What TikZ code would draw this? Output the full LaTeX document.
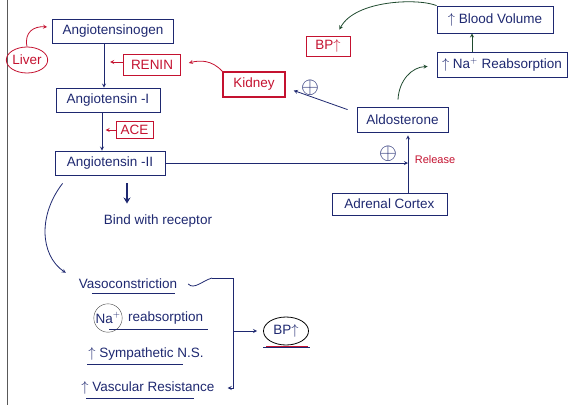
\documentclass[tikz,border=0pt]{standalone}
\usepackage{fontspec}
\setmainfont{Liberation Sans}
\usetikzlibrary{arrows.meta,shapes.geometric}
\definecolor{figN}{HTML}{1E2870}
\definecolor{figR}{HTML}{C41230}
\definecolor{figG}{HTML}{1F4A2E}

\begin{document}
\begin{tikzpicture}[x=1pt,y=-1pt,>=stealth,font=\fontsize{13.5}{15}\selectfont,
  box/.style={draw=figN,thick,text=figN,inner sep=2pt},
  rbox/.style={draw=figR,thick,text=figR,inner sep=2pt},
  note/.style={text=figN,inner sep=1pt},
  link/.style={->,figN,thick},
  rlink/.style={->,figR,thick},
  glink/.style={->,figG,thick},
  uline/.style={figN,thick}]
\useasboundingbox (0,0) rectangle (573,405);
\draw[black!65] (7,0) -- (7,405);
% renin - angiotensin chain
\node[box,minimum width=121pt,minimum height=24pt] (ago) at (113,31) {Angiotensinogen};
\node[rbox,ellipse,minimum width=40pt,minimum height=26pt,inner sep=0pt] (liver) at (27,60) {Liver};
\node[rbox,minimum width=57pt,minimum height=21pt] (renin) at (152,65) {RENIN};
\node[box,minimum width=104pt,minimum height=24pt] (ang1) at (108,100) {Angiotensin -I};
\node[rbox,line width=1.5pt,minimum width=62pt,minimum height=25pt] (kidney) at (254,84.5) {Kidney};
\node[rbox,minimum width=37pt,minimum height=17pt] (ace) at (134.5,130) {ACE};
\node[box,minimum width=110pt,minimum height=24pt] (ang2) at (110,163) {Angiotensin -II};
% aldosterone side
\node[box,minimum width=115pt,minimum height=22pt] (adrenal) at (389.5,204) {Adrenal Cortex};
\node[box,minimum width=91pt,minimum height=25pt] (aldo) at (402.5,119.5) {Aldosterone};
\node[box,minimum width=130pt,minimum height=25pt] (na) at (502,64.5) {$\uparrow$ Na$^{+}$ Reabsorption};
\node[box,minimum width=116pt,minimum height=27pt] (bv) at (495,19.5) {$\uparrow$ Blood Volume};
\node[rbox,minimum width=44pt,minimum height=20pt] (bp1) at (328,46) {BP$\uparrow$};
\node[note] (plusa) at (388,154) {\scalebox{1.6}{$\oplus$}};
\node[note] (plusb) at (310,88) {\scalebox{1.6}{$\oplus$}};
\node[text=figR,inner sep=1pt,font=\fontsize{11}{13}\selectfont] (release) at (435,160) {Release};
\coordinate (rel) at (408,163);
% effects
\node[note] (bind) at (158,221) {Bind with receptor};
\node[note] (vaso) at (128,284) {Vasoconstriction};
\node[note,circle,draw=black!70,thin,inner sep=0.5pt] (nac) at (108,318) {Na$^{+}$};
\node[note,anchor=west] (reab) at (127,318) {reabsorption};
\node[note] (symp) at (146,354) {$\uparrow$ Sympathetic N.S.};
\node[note] (vasc) at (148,388) {$\uparrow$ Vascular Resistance};
\node[ellipse,draw=black,thick,text=figN,minimum width=45pt,minimum height=28pt,inner sep=0pt] (bp2) at (286,331) {BP$\uparrow$};
\coordinate (brtl) at (212,278);
\coordinate (brt) at (233,278);
\coordinate (brm) at (233,331);
\coordinate (brb) at (233,388);

\draw[link] ([xshift=-9pt]ago.south) -- ([xshift=-4pt]ang1.north);
\draw[link] ([xshift=-6pt]ang1.south) -- ([xshift=-8pt]ang2.north);
\draw[rlink] ([yshift=3pt]renin.west) -- ++(-13,0);
\draw[rlink] (ace.west) -- ++(-10,0);
\draw[rlink] (liver.north) .. controls (24,32) and (34,26) .. ([xshift=-5pt,yshift=4pt]ago.west);
\draw[rlink] (kidney.north west) .. controls (212,60) and (200,60) .. ([xshift=8pt,yshift=2pt]renin.east);
\draw[link] (ang2.east) -- (rel);
\draw[link] ([xshift=18.5pt]adrenal.north) -- ([xshift=5.5pt,yshift=-3pt]aldo.south);
\draw[link] ([xshift=-9pt,yshift=-3pt]aldo.north west) -- ([xshift=8pt,yshift=-6pt]kidney.east);
\draw[glink] ([xshift=-4.5pt,yshift=7pt]aldo.north) .. controls (399,80) and (412,67) .. ([xshift=-9pt,yshift=-2pt]na.west);
\draw[glink] ([xshift=-30pt]na.north) -- ([xshift=-23pt]bv.south);
\draw[glink] (bv.north west) .. controls (418,-2) and (355,0) .. ([xshift=-11pt,yshift=6pt]bp1.north east);
% receptor effects
\draw[-{Stealth[length=6pt,width=7pt]},figN,line width=2pt] ([xshift=17pt,yshift=-8pt]ang2.south) -- ([xshift=-31pt,yshift=10pt]bind.north);
\draw[link] ([xshift=8pt,yshift=-8pt]ang2.south west) .. controls (38,215) and (40,255) .. ([xshift=-12pt,yshift=5pt]vaso.north west);
\draw[uline] ([xshift=14pt,yshift=-3pt]vaso.south west) -- ([xshift=-3pt,yshift=-3pt]vaso.south east);
\draw[uline] ([xshift=-18pt,yshift=-4pt]reab.south west) -- ([xshift=4pt,yshift=-4pt]reab.south east);
\draw[uline] ([xshift=0pt,yshift=-3pt]symp.south west) -- ([xshift=-22pt,yshift=-3pt]symp.south east);
\draw[uline] ([xshift=6pt,yshift=-3pt]vasc.south west) -- ([xshift=-22pt,yshift=-3pt]vasc.south east);
\draw[figN,thick] ([xshift=10pt]vaso.east) .. controls (194,290) and (202,281) .. (brtl);
\draw[link] (brtl) -- (brt) -- (brb) -- ([xshift=12pt]vasc.east);
\draw[link,shorten >=6pt] (brm) -- (bp2.west);
\draw[figN,thick] ([xshift=-23pt,yshift=-2pt]bp2.south) -- ([xshift=24pt,yshift=-2pt]bp2.south);
\draw[figR] ([xshift=-20pt,yshift=-0.5pt]bp2.south) -- ([xshift=22pt,yshift=-0.5pt]bp2.south);
\end{tikzpicture}
\end{document}
